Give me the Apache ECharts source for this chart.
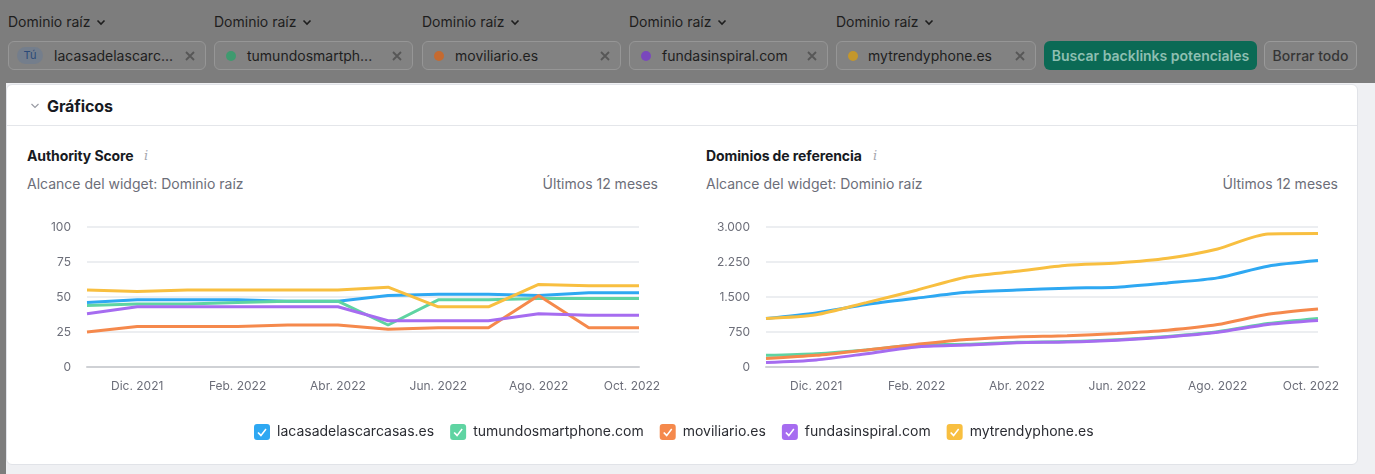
<!DOCTYPE html>
<html>
<head>
<meta charset="utf-8">
<script src="https://cdn.jsdelivr.net/npm/echarts@6/dist/echarts.min.js"></script>
<style>
  html, body { margin:0; padding:0; }
  body { width:1375px; height:474px; position:relative; overflow:hidden; background:#eff0f3; font-family: Inter, "Noto Sans", sans-serif; }
  .abs { position:absolute; white-space:nowrap; }
  #topband { position:absolute; left:0; top:0; width:1375px; height:83px; background:#7d7d7d; }
  #leftstrip { position:absolute; left:0; top:83px; width:6px; height:391px; background:#7d7d7d; }
  .dd { font-size:14px; color:#1e1e1e; line-height:20px; top:12px; }
  .dd svg { vertical-align:middle; margin-left:6px; margin-top:-2px; }
  .chip { position:absolute; top:41px; height:29px; width:196px; border:1px solid #969696; border-radius:6px; background:#828282; box-sizing:border-box; }
  .chip .t { position:absolute; top:4px; font-size:14px; line-height:20px; color:#1e1e1e; }
  .chip .x { position:absolute; right:9px; top:8px; }
  .chip .dot { position:absolute; left:11px; top:9px; width:10px; height:10px; border-radius:50%; }
  #card { position:absolute; left:6px; top:84px; width:1352px; height:381px; background:#fff; border:1px solid #e1e3e8; border-radius:6px; box-sizing:border-box; }
  .title { font-size:14px; font-weight:700; color:#171a22; line-height:20px; letter-spacing:-0.1px; }
  .sub { font-size:14px; color:#6c6e79; line-height:20px; }
  .info { font-size:13px; color:#a6a8b0; font-style:italic; font-family:"DejaVu Serif", serif; line-height:20px; }
  #chart { position:absolute; left:0; top:0; width:1375px; height:474px; }
</style>
</head>
<body>
<div id="topband"></div>
<div id="leftstrip"></div>

<!-- top filter row -->
<div class="abs dd" style="left:8px;">Dominio raíz<svg width="10" height="7" viewBox="0 0 10 7"><path d="M1.5 1.5 L5 5 L8.5 1.5" stroke="#1e1e1e" stroke-width="1.6" fill="none"/></svg></div>
<div class="abs dd" style="left:214px;">Dominio raíz<svg width="10" height="7" viewBox="0 0 10 7"><path d="M1.5 1.5 L5 5 L8.5 1.5" stroke="#1e1e1e" stroke-width="1.6" fill="none"/></svg></div>
<div class="abs dd" style="left:422px;">Dominio raíz<svg width="10" height="7" viewBox="0 0 10 7"><path d="M1.5 1.5 L5 5 L8.5 1.5" stroke="#1e1e1e" stroke-width="1.6" fill="none"/></svg></div>
<div class="abs dd" style="left:629px;">Dominio raíz<svg width="10" height="7" viewBox="0 0 10 7"><path d="M1.5 1.5 L5 5 L8.5 1.5" stroke="#1e1e1e" stroke-width="1.6" fill="none"/></svg></div>
<div class="abs dd" style="left:836px;">Dominio raíz<svg width="10" height="7" viewBox="0 0 10 7"><path d="M1.5 1.5 L5 5 L8.5 1.5" stroke="#1e1e1e" stroke-width="1.6" fill="none"/></svg></div>

<div class="chip" style="left:8px;width:198px;">
  <div style="position:absolute;left:8px;top:5px;width:26px;height:17px;border-radius:9px;background:#747e8c;color:#2b4a78;font-size:11px;line-height:17px;text-align:center;">Tú</div>
  <div class="t" style="left:45px;">lacasadelascarc...</div>
  <svg class="x" width="12" height="12" viewBox="0 0 12 12"><path d="M2 2 L10 10 M10 2 L2 10" stroke="#575757" stroke-width="1.8"/></svg>
</div>
<div class="chip" style="left:214px;width:199px;">
  <div class="dot" style="background:#3f9a6f;"></div>
  <div class="t" style="left:32px;">tumundosmartph...</div>
  <svg class="x" width="12" height="12" viewBox="0 0 12 12"><path d="M2 2 L10 10 M10 2 L2 10" stroke="#575757" stroke-width="1.8"/></svg>
</div>
<div class="chip" style="left:422px;width:199px;">
  <div class="dot" style="background:#c56a30;"></div>
  <div class="t" style="left:32px;">moviliario.es</div>
  <svg class="x" width="12" height="12" viewBox="0 0 12 12"><path d="M2 2 L10 10 M10 2 L2 10" stroke="#575757" stroke-width="1.8"/></svg>
</div>
<div class="chip" style="left:629px;width:199px;">
  <div class="dot" style="background:#7a48bd;"></div>
  <div class="t" style="left:32px;">fundasinspiral.com</div>
  <svg class="x" width="12" height="12" viewBox="0 0 12 12"><path d="M2 2 L10 10 M10 2 L2 10" stroke="#575757" stroke-width="1.8"/></svg>
</div>
<div class="chip" style="left:836px;width:200px;">
  <div class="dot" style="background:#c4972c;"></div>
  <div class="t" style="left:31px;">mytrendyphone.es</div>
  <svg class="x" width="12" height="12" viewBox="0 0 12 12"><path d="M2 2 L10 10 M10 2 L2 10" stroke="#575757" stroke-width="1.8"/></svg>
</div>
<div class="abs" style="left:1044px;top:41px;width:213px;height:29px;border-radius:6px;background:#0b6a55;color:#8ebfb1;font-size:14px;font-weight:600;line-height:29px;text-align:center;">Buscar backlinks potenciales</div>
<div class="abs" style="left:1264px;top:41px;width:93px;height:29px;border-radius:6px;background:#838383;border:1px solid #9a9a9a;box-sizing:border-box;color:#363636;font-size:14px;font-weight:500;line-height:27px;text-align:center;">Borrar todo</div>

<!-- card -->
<div id="card"></div>
<svg class="abs" style="left:30px;top:102px;" width="10" height="8" viewBox="0 0 10 8"><path d="M1.5 2 L5 5.5 L8.5 2" stroke="#9a9ca4" stroke-width="1.2" fill="none"/></svg>
<div class="abs title" style="left:47px;top:95px;font-size:16px;line-height:22px;">Gráficos</div>
<div class="abs" style="left:7px;top:125px;width:1350px;height:1px;background:#e4e6ea;"></div>

<div class="abs title" style="left:27px;top:146px;">Authority Score</div>
<div class="abs info" style="left:144px;top:146px;">i</div>
<div class="abs sub" style="left:27px;top:174px;">Alcance del widget: Dominio raíz</div>
<div class="abs sub" style="right:717px;top:174px;">Últimos 12 meses</div>

<div class="abs title" style="left:706px;top:146px;">Dominios de referencia</div>
<div class="abs info" style="left:873px;top:146px;">i</div>
<div class="abs sub" style="left:706px;top:174px;">Alcance del widget: Dominio raíz</div>
<div class="abs sub" style="right:37px;top:174px;">Últimos 12 meses</div>

<div id="chart"></div>

<script>
// ---------- data ----------
const months = ['Nov. 2021','Dic. 2021','Ene. 2022','Feb. 2022','Mar. 2022','Abr. 2022','May. 2022','Jun. 2022','Jul. 2022','Ago. 2022','Sep. 2022','Oct. 2022'];
const domains = ['lacasadelascarcasas.es','tumundosmartphone.com','moviliario.es','fundasinspiral.com','mytrendyphone.es'];
const colors = ['#2ea8f2','#5fd4a2','#f5894c','#a66cf0','#f8bf40'];

const asTicks = [0, 25, 50, 75, 100];
const rdTicks = [0, 750, 1500, 2250, 3000];

// Authority Score
const asLacasa   = [46, 48, 48, 48, 47, 47, 51, 52, 52, 51, 53, 53];
const asTumundo  = [44, 45, 45, 46, 47, 47, 30, 48, 48, 49, 49, 49];
const asMovil    = [25, 29, 29, 29, 30, 30, 27, 28, 28, 51, 28, 28];
const asFundas   = [38, 43, 43, 43, 43, 43, 33, 33, 33, 38, 37, 37];
const asMytrendy = [55, 54, 55, 55, 55, 55, 57, 43, 43, 59, 58, 58];

// Dominios de referencia
const rdLacasa   = [1040, 1160, 1340, 1475, 1600, 1650, 1690, 1710, 1800, 1910, 2160, 2280];
const rdTumundo  = [250, 285, 365, 470, 485, 530, 545, 585, 655, 755, 930, 1040];
const rdMovil    = [180, 250, 365, 485, 590, 645, 670, 720, 790, 910, 1130, 1245];
const rdFundas   = [95, 150, 285, 430, 470, 520, 535, 575, 645, 745, 910, 995];
const rdMytrendy = [1040, 1120, 1380, 1645, 1930, 2050, 2180, 2230, 2330, 2530, 2850, 2860];

const asSeries = [asLacasa, asTumundo, asMovil, asFundas, asMytrendy];
const rdSeries = [rdLacasa, rdTumundo, rdMovil, rdFundas, rdMytrendy];

// ---------- chart ----------
const fmtThousands = v => String(v).replace(/\B(?=(\d{3})+(?!\d))/g, '.');
const labelColor = '#6c6e79';
const FONT = 'Inter';

function xAxis(gi) {
  return {
    type: 'category', gridIndex: gi, data: months, boundaryGap: false,
    axisTick: { show: false },
    axisLine: { show: true, lineStyle: { color: '#cfd1d5', width: 2 } },
    axisLabel: {
      color: labelColor, fontSize: 12, fontFamily: FONT, margin: 13,
      interval: (i) => i % 2 === 1,
      formatter: (v, i) => i === months.length - 1 ? '{l|' + v + '}' : v,
      rich: { l: { color: labelColor, fontSize: 12, fontFamily: FONT, padding: [0, 14, 0, 0] } }
    },
    splitLine: { show: false }
  };
}
function yAxis(gi, ticks, fmt) {
  return {
    type: 'value', gridIndex: gi,
    min: ticks[0], max: ticks[ticks.length - 1], interval: ticks[1] - ticks[0],
    axisLine: { show: false }, axisTick: { show: false },
    axisLabel: { color: labelColor, fontSize: 12, fontFamily: FONT, margin: 16, formatter: fmt },
    splitLine: { lineStyle: { color: '#eceef1', width: 2 } }
  };
}

const series = [];
domains.forEach((d, k) => {
  series.push({
    name: d, type: 'line', xAxisIndex: 0, yAxisIndex: 0, data: asSeries[k],
    showSymbol: false, symbol: 'none', color: colors[k],
    lineStyle: { width: 3, color: colors[k] }, z: 2 + k
  });
});
domains.forEach((d, k) => {
  series.push({
    name: d, type: 'line', xAxisIndex: 1, yAxisIndex: 1, data: rdSeries[k],
    showSymbol: false, symbol: 'none', color: colors[k], smooth: 0.25,
    lineStyle: { width: 3, color: colors[k] }, z: 2 + k
  });
});

const checkIcon = 'path://M3,0 L13,0 Q16,0 16,3 L16,13 Q16,16 13,16 L3,16 Q0,16 0,13 L0,3 Q0,0 3,0 Z M3.4,9.1 L7,12.7 L12.6,5.6 L11.4,4.4 L7,10.2 L4.6,7.9 Z';

const chart = echarts.init(document.getElementById('chart'), null, { renderer: 'canvas' });
chart.setOption({
  animation: false,
  backgroundColor: 'transparent',
  color: colors,
  grid: [
    { left: 87, top: 227, width: 552, height: 140 },
    { left: 766, top: 227, width: 552, height: 140 }
  ],
  xAxis: [xAxis(0), xAxis(1)],
  yAxis: [yAxis(0, asTicks, v => String(v)), yAxis(1, rdTicks, fmtThousands)],
  legend: {
    data: domains, left: 254, top: 424, orient: 'horizontal', padding: 0,
    icon: checkIcon, itemWidth: 16, itemHeight: 16, itemGap: 16,
    itemStyle: { borderWidth: 0 },
    textStyle: { color: '#2b2d33', fontSize: 14, fontFamily: FONT, padding: [0, 0, 0, 2] }
  },
  series: series
});
</script>
</body>
</html>
